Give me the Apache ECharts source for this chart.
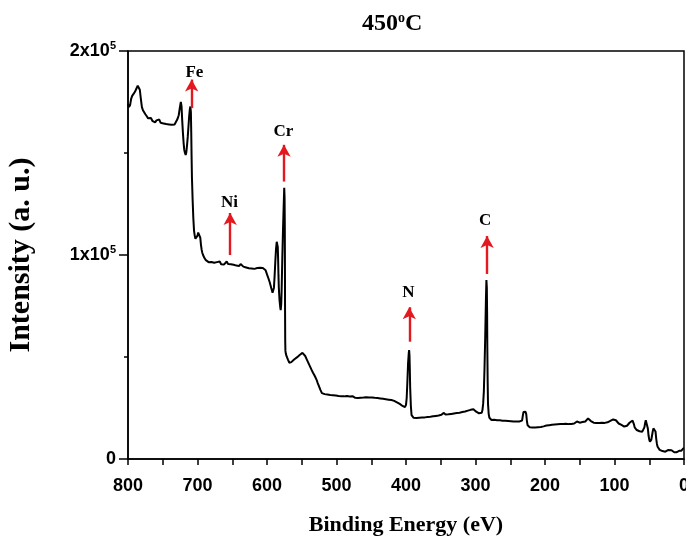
<!DOCTYPE html>
<html>
<head>
<meta charset="utf-8">
<script src="https://cdn.jsdelivr.net/npm/echarts@6/dist/echarts.min.js"></script>
<style>
  html, body { margin: 0; padding: 0; background: #fff; }
  #chart { width: 686px; height: 536px; }
</style>
</head>
<body>
<div id="chart"></div>
<script>
// XPS survey spectrum, sample treated at 450 °C.
// Each region: [binding energy (eV), intensity (counts)]

const regionFe2p = [
  [800,174000],[798.5,172500],[797,173500],[795.5,176500],[794,178000],[792,179000],[790,180000],
  [788,181500],[786,183000],[785,183800],[784,183000],[783,181000],[781.5,176500],[780,172500],
  [778.5,171000],[777,170200],[775,169000],[773,168000],[771,167000],[769,166500],[767,167200],
  [765,165800],[763,166300],[761,165000],[759,166000],[757,165200],[755,166400],[753,164800],
  [751,165600],[749,164500],[747,165300],[745,164200],[743,165000],[741,164000],[739,164600],
  [737,163800],[735,164300],[733,164000],[731,164800],[729,166500],[727,168500],[725.5,172000],
  [724,175000],[723,173000],[722,166000],[721,160000],[720,155000],[719,151500],[718,150000],
  [717,149000],[716,150500],[715,154000],[714,158000],[713,163000],[712,168000],[711,171500],
  [710.3,172800],[709.5,170000],[709,160000],[708.5,148000],[708,138000],[707,127000],[706,118000],
  [705,112000],[704,109500],[703,108000],[702,107500],[701,108000],[700,109500],[699,111000],
  [698,111500],[697,111000],[696,108500],[695,105000],[694,102500],[693,101000],[692,100000],
  [690,98500],[688,97500],[686,97000]
];

const regionNi = [
  [684,96500],[682,96000],[680,96600],[678,95800],[676,96200],[674,95400],[672,96500],[670,95800],
  [668,96800],[666,95500],[664,96200],[662,95300],[660,96000],[658,96800],[656,95600],[654,96400],
  [652,95500],[650,96300],[648,95200],[646,95800],[644,94800],[642,95400],[640,94600],[638,95600],
  [636,94800],[634,94300],[632,94600],[630,93900],[628,94200],[626,93500],[624,93000],[622,93400],
  [620,92600],[618,93200],[616,92800],[614,93600],[612,93000],[610,93800],[608,93200],[606,93600],
  [604,93300],[602,92500]
];

const regionCr2p = [
  [600,90500],[598,88600],[596,86500],[594,84000],[592,81500],[591,81000],[590,84000],[589,90000],
  [588,97000],[587,103000],[586,106500],[585.3,107400],[584.5,104000],[584,98000],[583.5,90000],
  [583,84000],[582,78000],[581,74500],[580.3,73000],[579.5,76000],[579,82000],[578.5,90000],
  [578,98000],[577,112000],[576,124000],[575.2,133000],[574.7,128000],[574.4,115000],[574.2,95000],
  [574,72000],[573.8,58000],[573.5,53000],[573,51800],[572,50500],[570,48800],[568,47200],
  [567,46900],[565,47500],[563,48200],[561,48800],[559,49300],[557,49800],[555,50300],[553,51000],
  [551,51600],[549,52000],[548,52100],[547,51800],[545,50500],[543,49000],[541,47500],[539,46000],
  [538,45200],[536,43800],[534,42400],[532,41200],[530,39800],[528.5,38700],[527,37200],
  [525,35500],[523,33800],[521,32300]
];

const regionN1s = [
  [519,31600],[517,31800],[515,31200],[513,31600],[511,31000],[509,31400],[507,30800],[505,31300],
  [503,30600],[501,31100],[499,30500],[497,30900],[495,30400],[493,30800],[491,30200],[489,30700],
  [487,30300],[485,30900],[483,30100],[481,30600],[479,30200],[477,30800],[475,30400],[473,30000],
  [471,30500],[469,29900],[467,30400],[465,30000],[463,30600],[461,30100],[459,29800],[457,30300],
  [455,29900],[453,30200],[451,29700],[449,30200],[447,29600],[445,30000],[443,29400],[441,29900],
  [439,29300],[437,29700],[435,29200],[433,29500],[431,28900],[429,29300],[427,28800],[425,29100],
  [423,28600],[421,28900],[419,28300],[417,28500],[415,27900],[413,27800],[411,27200],[409,27000],
  [407,26600],[405,26000],[403,25600],[401.5,25400],[400,26500],[399,30000],[398,38000],[397,47000],
  [396,52000],[395.5,53400],[395,51000],[394.5,44000],[394,35000],[393,26000],[392,21500],
  [391,20600],[389,20200],[387,19900],[385,20100],[383,19800],[381,20200],[379,19900],[377,20300],
  [375,20000],[373,20400],[371,20200],[369,20600],[367,20300],[365,20700],[363,20500],[361,20900],
  [359,20700],[357,21100],[355,20900],[353,21300],[351,21200],[349,21700],[347,22000],[346,22600],
  [345,22000],[343,21800],[341,22100],[339,21900],[337,22300],[335,22100],[333,22500],[331,22300],
  [329,22700],[327,22500],[325,22900],[323,22700],[321,23100],[319,23000],[317,23400],[315,23300],
  [313,23700],[311,23700],[309,24000],[307,24100],[305,24300],[303,24400],[301,24000],[299,23200],
  [297,22600],[295,22400],[293,22300],[291,22700]
];

const regionC1s = [
  [290,24000],[289,27000],[288,33000],[287,45000],[286,60000],[285,78000],[284.3,87700],
  [283.7,84000],[283.3,72000],[283,55000],[282.5,38000],[282,27000],[281,22000],[280,20200],
  [279,19400],[277,19100],[275,18900],[273,19200],[271,18800],[269,19000],[267,18700],[265,19000],
  [263,18600],[261,18800],[259,18400],[257,18700],[255,18300],[253,18600],[251,18200],[249,18500],
  [247,18200],[245,18400],[243,18100],[241,18400],[239,18100],[237,18400],[235,18200],[233,18800],
  [232,21000],[231,23000],[230.5,23300],[230,22600],[229,22800],[228,23200],[227,22000],
  [226,18500],[225,16500],[224,15800]
];

const regionValence = [
  [222,15600],[220,15900],[218,15500],[216,15800],[214,15500],[212,15900],[210,15600],[208,16000],
  [206,15700],[204,16200],[202,16000],[200,16500],[198,16400],[196,16900],[194,16600],[192,17000],
  [190,16800],[188,17200],[186,16900],[184,17300],[182,17000],[180,17400],[178,17100],[176,17500],
  [174,17200],[172,17600],[170,17300],[168,17400],[166,17100],[164,17500],[162,17200],[160,17600],
  [158,17400],[156,18000],[154,18400],[152,18200],[150,17800],[148,18600],[146,18100],[144,19000],
  [142,18400],[140,19300],[138,19900],[136,19200],[134,18600],[132,18000],[130,17800],[128,18000],
  [126,17700],[124,17900],[122,17600],[120,18000],[118,17800],[116,18000],[114,17700],[112,18100],
  [110,18000],[108,18400],[106,18700],[104,19100],[102,19400],[100,19500],[98,19000],[96,18200],
  [94,17400],[92,17000],[90,16700],[88,16200],[86,15900],[84,15800],[82,16300],[80,17000],
  [78,17900],[76,18600],[74,18800],[73,18400],[72,17000],[71,15500],[70,14700],[68,14200],
  [66,13800],[64,13600],[62,13400],[60,13400],[58,14000],[57,15500],[56,17500],[55,19000],
  [54,19500],[53,18500],[52,15000],[51,11500],[50,9500],[49,8500],[48,8700],[47,9500],[46,11500],
  [45,13500],[44,15000],[43,15800],[42,15500],[41,13500],[40,10000],[39,7500],[38,6000],[37,5200],
  [35,4500],[33,4200],[31,3900],[29,3700],[27,3600],[25,3900],[23,4400],[21,4800],[20,4800],
  [18,4300],[16,3700],[14,3300],[13,3100],[11,3300],[9,3700],[7,4000],[5.8,4100],[4,4000],
  [2,4600],[1,5200],[0,5300]
];

// Element assignments: arrow at `peakEnergy`, from base up to tip, text above
const elements   = ['Fe', 'Ni', 'Cr', 'N', 'C'];
const peakEnergy = [708.4, 653, 575.5, 395.3, 283.3];
const arrowBase  = [172000, 100000, 136000, 57500, 90700];
const arrowTip   = [186000, 120600, 154000, 74400, 109300];
const labelEnergy = [704.5, 654, 576.5, 396.5, 286];
const labelCounts = [189500, 125500, 160500, 81500, 117000];

const xTicks = { min: 0, max: 800, step: 100 };
const yTicks = { min: 0, max: 200000, step: 100000 };

const spectrum = [].concat(regionFe2p, regionNi, regionCr2p, regionN1s, regionC1s, regionValence);

const chart = echarts.init(document.getElementById('chart'), null, { renderer: 'canvas' });

const serif = '"Liberation Serif", "Times New Roman", serif';
const sans = '"Liberation Sans", Arial, sans-serif';
const red = '#e3191f';

const arrowLines = elements.map((el, i) => [
  { coord: [peakEnergy[i], arrowBase[i]], symbol: 'none' },
  { coord: [peakEnergy[i], arrowTip[i]], symbol: 'arrow' }
]);

chart.setOption({
  animation: false,
  backgroundColor: '#fff',
  title: {
    text: '{n|450}{s|o}{n|C}',
    left: 357,
    top: 6,
    textStyle: {
      rich: {
        n: { fontFamily: serif, fontWeight: 'bold', fontSize: 24, color: '#000' },
        s: { fontFamily: serif, fontWeight: 'bold', fontSize: 14, color: '#000', padding: [0, 0, 11, 0] }
      }
    }
  },
  grid: {
    left: 128, right: 2, top: 51, bottom: 77,
    outerBoundsMode: 'none',
    containLabel: false,
    show: true, borderColor: '#000', borderWidth: 1.5, backgroundColor: 'transparent'
  },
  xAxis: {
    type: 'value',
    inverse: true,
    min: xTicks.min, max: xTicks.max, interval: xTicks.step,
    name: 'Binding Energy (eV)',
    nameLocation: 'middle',
    nameGap: 55,
    nameTextStyle: { fontFamily: serif, fontWeight: 'bold', fontSize: 22, color: '#000' },
    axisLine: { show: true, onZero: false, lineStyle: { color: '#000', width: 1.5 } },
    axisTick: { show: true, length: 6, lineStyle: { color: '#000', width: 1.5 } },
    minorTick: { show: true, splitNumber: 2, length: 6, lineStyle: { color: '#000', width: 1.5 } },
    splitLine: { show: false },
    axisLabel: { margin: 18, fontFamily: sans, fontWeight: 'bold', fontSize: 18, color: '#000' }
  },
  yAxis: {
    type: 'value',
    min: yTicks.min, max: yTicks.max, interval: yTicks.step,
    name: 'Intensity (a. u.)',
    nameLocation: 'middle',
    nameGap: 92,
    nameTextStyle: { fontFamily: serif, fontWeight: 'bold', fontSize: 30, color: '#000' },
    axisLine: { show: true, onZero: false, lineStyle: { color: '#000', width: 1.5 } },
    axisTick: { show: true, length: 9, lineStyle: { color: '#000', width: 1.5 } },
    minorTick: { show: true, splitNumber: 2, length: 4, lineStyle: { color: '#000', width: 1.5 } },
    splitLine: { show: false },
    axisLabel: {
      margin: 12,
      formatter: v => v === 0 ? '{m|0}' : '{m|' + (v / 100000) + 'x10}{e|5}',
      rich: {
        m: { fontFamily: sans, fontWeight: 'bold', fontSize: 18, color: '#000' },
        e: { fontFamily: sans, fontWeight: 'bold', fontSize: 11, color: '#000', padding: [0, 0, 10, 0] }
      }
    }
  },
  series: [
    {
      type: 'line',
      data: spectrum,
      showSymbol: false,
      lineStyle: { color: '#000', width: 2 },
      z: 3,
      markLine: {
        silent: true,
        symbolSize: [10, 12],
        label: { show: false },
        lineStyle: { color: red, width: 2.4, type: 'solid' },
        data: arrowLines
      }
    },
    {
      type: 'scatter',
      data: elements.map((el, i) => [labelEnergy[i], labelCounts[i], el]),
      symbol: 'circle',
      symbolSize: 1,
      itemStyle: { color: 'rgba(0,0,0,0)' },
      silent: true,
      z: 5,
      label: {
        show: true,
        position: 'inside',
        formatter: p => p.data[2],
        fontFamily: serif, fontWeight: 'bold', fontSize: 17,
        color: '#000', opacity: 1, textBorderWidth: 0
      }
    }
  ]
});
</script>
</body>
</html>
